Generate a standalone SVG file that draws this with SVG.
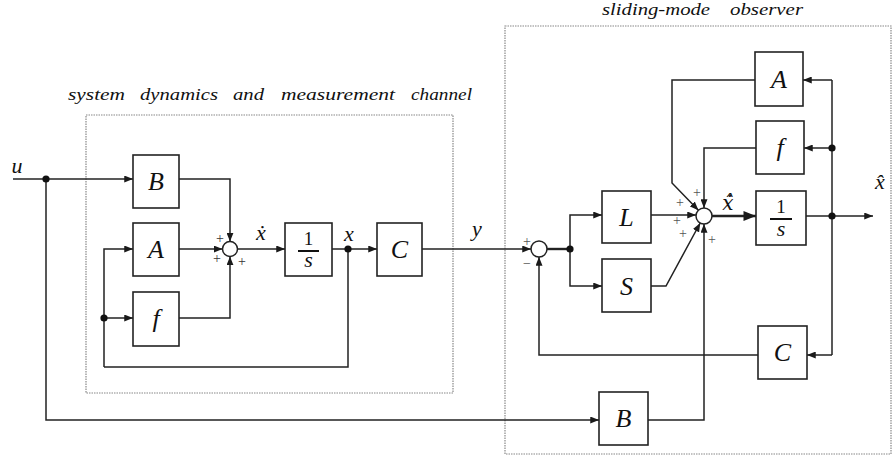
<svg xmlns="http://www.w3.org/2000/svg" width="892" height="459" viewBox="0 0 892 459">
<style>
.box{fill:#fff;stroke:#222;stroke-width:1.6}
.ln{fill:none;stroke:#222;stroke-width:1.5}
.thk{fill:none;stroke:#222;stroke-width:2.4}
.dot{fill:#111}
.sum{fill:#fff;stroke:#222;stroke-width:1.5}
.frame{fill:none;stroke:#888;stroke-width:1.2;stroke-dasharray:1.5 1}
.lbl{font-family:"Liberation Serif","DejaVu Serif",serif;font-style:italic;font-size:26px;fill:#111;text-anchor:middle}
.sig{font-family:"Liberation Serif","DejaVu Serif",serif;font-style:italic;font-size:22px;fill:#111;text-anchor:middle}
.sigd{font-family:"DejaVu Serif",serif;font-style:italic;font-size:20px;fill:#111;text-anchor:middle}
.num{font-family:"Liberation Serif","DejaVu Serif",serif;font-size:19px;fill:#111;text-anchor:middle}
.ttl{font-family:"Liberation Serif","DejaVu Serif",serif;font-style:italic;font-size:16px;fill:#111}
.pm{font-family:"Liberation Serif","DejaVu Serif",serif;font-size:14px;fill:#333;text-anchor:middle}
.pmg{font-family:"Liberation Serif","DejaVu Serif",serif;font-size:14px;fill:#555;text-anchor:middle}
</style>
<defs>
<marker id="ar" viewBox="0 0 10 8" refX="10" refY="4" markerWidth="9" markerHeight="7" markerUnits="userSpaceOnUse" orient="auto"><path d="M0,0 L10,4 L0,8 z" fill="#1a1a1a"/></marker>
<marker id="arb" viewBox="0 0 10 8" refX="10" refY="4" markerWidth="13" markerHeight="10" markerUnits="userSpaceOnUse" orient="auto"><path d="M0,0 L10,4 L0,8 z" fill="#1a1a1a"/></marker>
</defs>

<g id="frames">
<rect class="frame" x="86" y="115" width="367" height="278"/>
<rect class="frame" x="505" y="26" width="386" height="428"/>
<text class="ttl" x="68" y="100" textLength="57" lengthAdjust="spacingAndGlyphs">system</text>
<text class="ttl" x="140" y="100" textLength="78" lengthAdjust="spacingAndGlyphs">dynamics</text>
<text class="ttl" x="233" y="100" textLength="31" lengthAdjust="spacingAndGlyphs">and</text>
<text class="ttl" x="281" y="100" textLength="114" lengthAdjust="spacingAndGlyphs">measurement</text>
<text class="ttl" x="411" y="100" textLength="61" lengthAdjust="spacingAndGlyphs">channel</text>
<text class="ttl" x="602" y="15" textLength="108" lengthAdjust="spacingAndGlyphs">sliding-mode</text>
<text class="ttl" x="730" y="15" textLength="73" lengthAdjust="spacingAndGlyphs">observer</text>
</g>

<g id="connectors">
<path class="ln" d="M13,179 H133" marker-end="url(#ar)"/>
<path class="ln" d="M46,179 V420 H599" marker-end="url(#ar)"/>
<path class="ln" d="M179,179 H230 V241.5" marker-end="url(#ar)"/>
<path class="ln" d="M179,249 H222.5" marker-end="url(#ar)"/>
<path class="ln" d="M104,367 V249 H133" marker-end="url(#ar)"/>
<path class="ln" d="M104,318 H133" marker-end="url(#ar)"/>
<path class="ln" d="M179,318 H230 V256.5" marker-end="url(#ar)"/>
<path class="ln" d="M237.5,249 H285" marker-end="url(#ar)"/>
<path class="ln" d="M332,249 H377" marker-end="url(#ar)"/>
<path class="ln" d="M348,249 V367 H104"/>
<path class="ln" d="M422,249 H531" marker-end="url(#ar)"/>
<path class="thk" d="M547,249 H570"/>
<path class="ln" d="M570,249 V215 H602" marker-end="url(#ar)"/>
<path class="ln" d="M570,249 V286 H602" marker-end="url(#ar)"/>
<path class="ln" d="M651,215 H696" marker-end="url(#ar)"/>
<path class="ln" d="M651,286 H666 L700.2,223" marker-end="url(#ar)"/>
<path class="ln" d="M755,80 H672 V183 L698.4,210.3" marker-end="url(#ar)"/>
<path class="ln" d="M756,148 H704 V208" marker-end="url(#ar)"/>
<path class="ln" d="M648,420 H704 V224" marker-end="url(#ar)"/>
<path class="thk" d="M712,216 H756" marker-end="url(#arb)"/>
<path class="ln" d="M806,216 H873" marker-end="url(#ar)"/>
<path class="ln" d="M832,80 V355"/>
<path class="ln" d="M832,80 H803" marker-end="url(#ar)"/>
<path class="ln" d="M832,148 H804" marker-end="url(#ar)"/>
<path class="ln" d="M832,355 H807" marker-end="url(#ar)"/>
<path class="ln" d="M758,355 H539 V257" marker-end="url(#ar)"/>
<circle class="dot" cx="46" cy="179" r="3.6"/>
<circle class="dot" cx="104" cy="318" r="3.6"/>
<circle class="dot" cx="348" cy="249" r="3.6"/>
<circle class="dot" cx="570" cy="249" r="3.6"/>
<circle class="dot" cx="832" cy="148" r="3.6"/>
<circle class="dot" cx="832" cy="216" r="3.6"/>
</g>

<g id="signals">
<text class="sig" x="17" y="173">u</text>
<text class="sig" x="261" y="240">ẋ</text>
<text class="sig" x="349" y="241">x</text>
<text class="sig" x="477" y="236">y</text>
<text class="sigd" x="728" y="210">x̂̇</text>
<text class="sig" x="880" y="189">x̂</text>
</g>

<g id="signs">
<text class="pm" x="220" y="243">+</text>
<text class="pm" x="217" y="263">+</text>
<text class="pm" x="242" y="266">+</text>
<text class="pmg" x="527" y="246">+</text>
<text class="pmg" x="527" y="268">−</text>
<text class="pmg" x="697" y="197">+</text>
<text class="pmg" x="680" y="207">+</text>
<text class="pmg" x="677" y="225">+</text>
<text class="pmg" x="683" y="238">+</text>
<text class="pmg" x="712" y="244">+</text>
</g>

<g id="B1"><rect class="box" x="133" y="155" width="46" height="53"/><text class="lbl" x="156" y="190">B</text></g>
<g id="A1"><rect class="box" x="133" y="223" width="46" height="53"/><text class="lbl" x="156" y="258">A</text></g>
<g id="f1"><rect class="box" x="133" y="292" width="46" height="54"/><text class="lbl" x="156" y="327">f</text></g>
<g id="sum1"><circle class="sum" cx="230" cy="249" r="7.5"/></g>
<g id="int1"><rect class="box" x="285" y="223" width="47" height="53"/><text class="num" x="308.5" y="245">1</text><line x1="298" y1="251" x2="319" y2="251" stroke="#111" stroke-width="2"/><text class="sig" x="308.5" y="267">s</text></g>
<g id="C1"><rect class="box" x="377" y="223" width="45" height="53"/><text class="lbl" x="399.5" y="258">C</text></g>

<g id="sum2"><circle class="sum" cx="539" cy="249" r="8"/></g>
<g id="L"><rect class="box" x="602" y="191" width="49" height="52"/><text class="lbl" x="626.5" y="226">L</text></g>
<g id="S"><rect class="box" x="602" y="259" width="49" height="53"/><text class="lbl" x="626.5" y="295">S</text></g>
<g id="A2"><rect class="box" x="755" y="52" width="48" height="54"/><text class="lbl" x="779" y="88">A</text></g>
<g id="f2"><rect class="box" x="756" y="121" width="48" height="53"/><text class="lbl" x="780" y="156">f</text></g>
<g id="sum3"><circle class="sum" cx="704" cy="216" r="8"/></g>
<g id="int2"><rect class="box" x="756" y="191" width="50" height="54"/><text class="num" x="781" y="213">1</text><line x1="770" y1="219" x2="792" y2="219" stroke="#111" stroke-width="2"/><text class="sig" x="781" y="236">s</text></g>
<g id="C2"><rect class="box" x="758" y="326" width="49" height="53"/><text class="lbl" x="782.5" y="361">C</text></g>
<g id="B2"><rect class="box" x="599" y="392" width="49" height="53"/><text class="lbl" x="623.5" y="427">B</text></g>
</svg>
